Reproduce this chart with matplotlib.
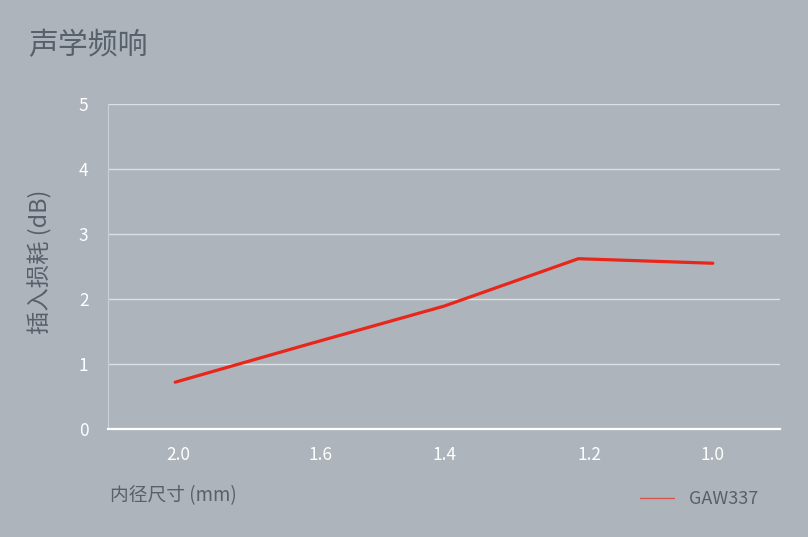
import matplotlib.pyplot as plt
from matplotlib.transforms import ScaledTranslation

plt.rcParams['font.family'] = ['Noto Sans CJK SC', 'DejaVu Sans']
plt.rcParams['font.weight'] = 'light'

# 数据
diameters = ["2.0", "1.6", "1.4", "1.2", "1.0"]
loss_gaw337 = [0.72, 1.31, 1.89, 2.62, 2.55]
y_ticks = [0, 1, 2, 3, 4, 5]

bg = "#aeb4bc"
dark = "#57616b"

fig = plt.figure(figsize=(8.08, 5.37), dpi=100, facecolor=bg)
ax = fig.add_axes([108 / 808, 1 - 429 / 537, 672 / 808, 325 / 537], facecolor=bg)

xs = list(range(len(diameters)))
ax.plot(xs, loss_gaw337, color="#e8261a", lw=2.3, solid_capstyle="round",
        label="GAW337", zorder=3)

ax.set_xlim(-0.5, len(diameters) - 0.5)
ax.set_ylim(0, 5)
ax.set_yticks(y_ticks)
ax.set_yticklabels([str(v) for v in y_ticks])
ax.set_xticks(xs)
ax.set_xticklabels(diameters)

ax.grid(axis="y", color="#dde0e4", lw=1)
ax.set_axisbelow(True)
for s in ["top", "right"]:
    ax.spines[s].set_visible(False)
ax.spines["bottom"].set_color("white")
ax.spines["bottom"].set_linewidth(1.6)
ax.spines["left"].set_color("#cdd1d6")
ax.spines["left"].set_linewidth(0.8)

ax.tick_params(axis="both", length=0, colors="white", labelsize=12.5)
ax.tick_params(axis="x", pad=12)
ax.tick_params(axis="y", pad=14)

# 标签的细微偏移 (像素)
shifts = [3, 11, 1, 11, 0]
for lab, dx in zip(ax.get_xticklabels(), shifts):
    lab.set_transform(lab.get_transform() + ScaledTranslation(dx / 100, 0, fig.dpi_scale_trans))

fig.text(28 / 808, 1 - 46 / 537, "声学频响", fontsize=21.5, color=dark, va="center", ha="left")
fig.text(40 / 808, 1 - 262 / 537, "插入损耗 (dB)", fontsize=16.8, color=dark,
         rotation=90, va="center", ha="center")
fig.text(110 / 808, 1 - 496 / 537, "内径尺寸 (mm)", fontsize=13.5, color=dark,
         va="center", ha="left")

leg = fig.legend(loc="center left", bbox_to_anchor=(624 / 808, 1 - 499 / 537),
                 frameon=False, fontsize=13, handlelength=1.85, handletextpad=0.85,
                 labelcolor=dark)
for h in leg.get_lines():
    h.set_linewidth(1)
    h.set_color("#d8574c")

fig.savefig("out.png", dpi=100, facecolor=bg)
